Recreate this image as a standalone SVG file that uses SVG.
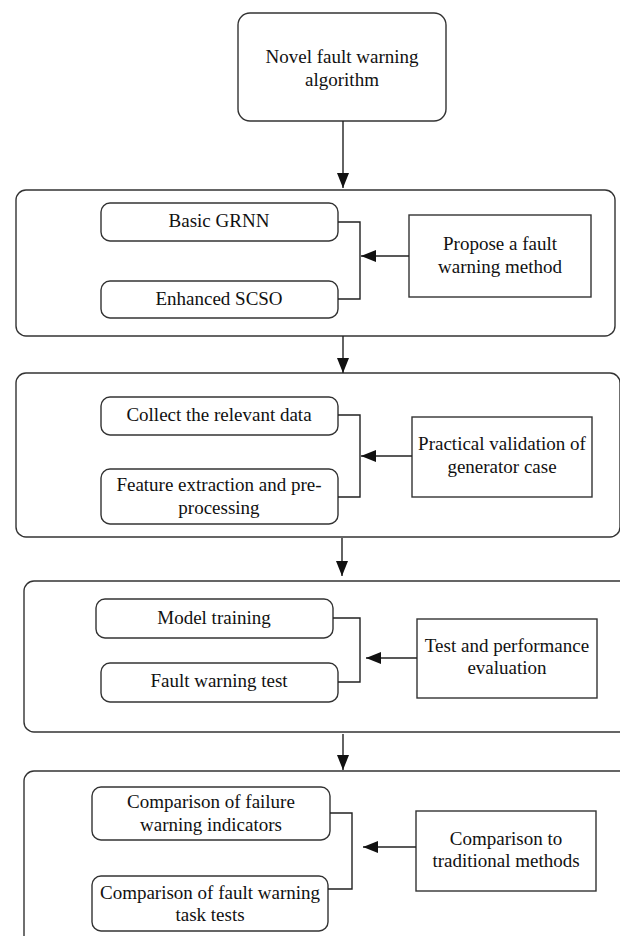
<svg xmlns="http://www.w3.org/2000/svg" width="620" height="936" viewBox="0 0 620 936">
<defs>
<style>
.box{fill:#fff;stroke:#333;stroke-width:1.4}
.ln{fill:none;stroke:#222;stroke-width:1.4}
text{font-family:"Liberation Serif","Times New Roman",serif;font-size:19px;fill:#111;text-anchor:middle}
</style>
<marker id="ah" markerWidth="16" markerHeight="12" refX="15" refY="6" orient="auto" markerUnits="userSpaceOnUse">
<path d="M0,0 L15,6 L0,12 Z" fill="#111"/>
</marker>
</defs>
<rect width="620" height="936" fill="#fff"/>

<g id="containers">
<rect id="stage1" class="box" x="16" y="190" width="599" height="146" rx="10"/>
<rect id="stage2" class="box" x="16" y="373" width="604" height="164" rx="10"/>
<rect id="stage3" class="box" x="24" y="581" width="610" height="151" rx="10"/>
<rect id="stage4" class="box" x="24" y="771" width="610" height="190" rx="10"/>
</g>

<g id="n-novel">
<rect class="box" x="238" y="13" width="208" height="108" rx="12"/>
<text x="342" y="63">Novel fault warning</text>
<text x="342" y="86">algorithm</text>
</g>

<g id="n-grnn">
<rect class="box" x="101" y="203" width="237" height="38" rx="9"/>
<text x="219" y="227">Basic GRNN</text>
</g>
<g id="n-scso">
<rect class="box" x="101" y="281" width="237" height="37" rx="9"/>
<text x="219" y="305">Enhanced SCSO</text>
</g>
<g id="n-propose">
<rect class="box" x="409" y="215" width="182" height="82"/>
<text x="500" y="250">Propose a fault</text>
<text x="500" y="273">warning method</text>
</g>

<g id="n-collect">
<rect class="box" x="101" y="397" width="237" height="38" rx="9"/>
<text x="219" y="421">Collect the relevant data</text>
</g>
<g id="n-feature">
<rect class="box" x="101" y="469" width="237" height="55" rx="9"/>
<text x="219" y="491">Feature extraction and pre-</text>
<text x="219" y="514">processing</text>
</g>
<g id="n-practical">
<rect class="box" x="412" y="417" width="180" height="80"/>
<text x="502" y="450">Practical validation of</text>
<text x="502" y="473">generator case</text>
</g>

<g id="n-model">
<rect class="box" x="96" y="599" width="237" height="39" rx="9"/>
<text x="214" y="624">Model training</text>
</g>
<g id="n-faulttest">
<rect class="box" x="101" y="663" width="237" height="39" rx="9"/>
<text x="219" y="687">Fault warning test</text>
</g>
<g id="n-test">
<rect class="box" x="417" y="619" width="180" height="79"/>
<text x="507" y="652">Test and performance</text>
<text x="507" y="674">evaluation</text>
</g>

<g id="n-indicators">
<rect class="box" x="92" y="787" width="238" height="53" rx="9"/>
<text x="211" y="808">Comparison of failure</text>
<text x="211" y="831">warning indicators</text>
</g>
<g id="n-tasktests">
<rect class="box" x="92" y="876" width="236" height="55" rx="9"/>
<text x="210" y="899">Comparison of fault warning</text>
<text x="210" y="921">task tests</text>
</g>
<g id="n-traditional">
<rect class="box" x="416" y="811" width="180" height="80"/>
<text x="506" y="845">Comparison to</text>
<text x="506" y="867">traditional methods</text>
</g>

<g id="connectors">
<line class="ln" x1="343" y1="121" x2="343" y2="188" marker-end="url(#ah)"/>
<line class="ln" x1="343" y1="336" x2="343" y2="373" marker-end="url(#ah)"/>
<line class="ln" x1="342" y1="538" x2="342" y2="576" marker-end="url(#ah)"/>
<line class="ln" x1="343" y1="734" x2="343" y2="770" marker-end="url(#ah)"/>

<path class="ln" d="M338,222 H360 V299 H338"/>
<line class="ln" x1="409" y1="256" x2="361" y2="256" marker-end="url(#ah)"/>

<path class="ln" d="M338,415 H360 V497 H338"/>
<line class="ln" x1="412" y1="456" x2="361" y2="456" marker-end="url(#ah)"/>

<path class="ln" d="M333,618 H360 V682 H338"/>
<line class="ln" x1="417" y1="658" x2="366" y2="658" marker-end="url(#ah)"/>

<path class="ln" d="M330,813 H352 V889 H328"/>
<line class="ln" x1="416" y1="847" x2="363" y2="847" marker-end="url(#ah)"/>
</g>
</svg>
